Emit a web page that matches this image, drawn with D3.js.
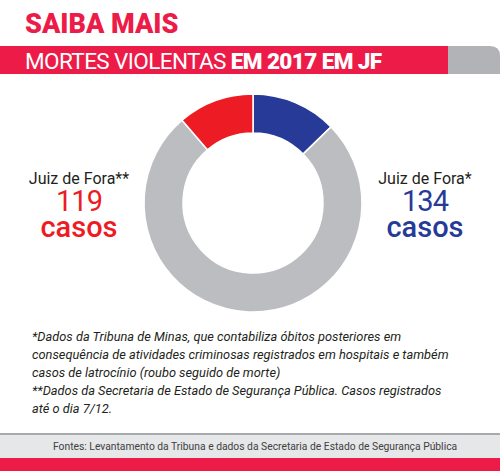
<!DOCTYPE html>
<html><head><meta charset="utf-8">
<script src="https://cdn.jsdelivr.net/npm/d3@7"></script>
<style>body{margin:0;background:#fff}</style>
</head><body>
<script>
// slice values, clockwise from the top
var labels = ["Juiz de Fora*", "outros", "Juiz de Fora**"];
var values = [134, 802, 119];
var colors = ["#273a97", "#bcbdc0", "#ed1c24"];

var W = 500, H = 471;
var svg = d3.select("body").append("svg").attr("width", W).attr("height", H);
var font = "Roboto, 'Open Sans', sans-serif";

//title
svg.append("text").attr("x", 25).attr("y", 33).attr("fill", "#ec1b48")
    .attr("font-family", font).attr("font-weight", 900).attr("font-size", 27)
    .text("SAIBA MAIS");

//header bar
svg.append("path").attr("fill", "#b1b3b6")
    .attr("d", "M440,46 H490 Q500,46 500,56 V74 H440 Z");
svg.append("rect").attr("x", 0).attr("y", 46).attr("width", 448).attr("height", 28).attr("fill", "#ec1b48");
var ht = svg.append("text").attr("x", 25).attr("y", 69).attr("fill", "#fff")
    .attr("font-family", font).attr("font-size", 22.5).attr("letter-spacing", -0.6);
ht.append("tspan").attr("font-weight", 400).text("MORTES VIOLENTAS ");
ht.append("tspan").attr("font-weight", 900).text("EM 2017 EM JF");

//donut
var cx = 253, cy = 203;
var pie = d3.pie().sort(null).value(function(d) { return d; });
var arc = d3.arc().innerRadius(70).outerRadius(109);
svg.append("g").attr("transform", "translate(" + cx + "," + cy + ")")
  .selectAll("path").data(pie(values)).enter().append("path")
    .attr("d", arc).attr("fill", function(d, i) { return colors[i]; })
    .attr("stroke", "#fff").attr("stroke-width", 1.5);

//side labels
function sideLabel(x, i) {
  svg.append("text").attr("x", x).attr("y", 184).attr("text-anchor", "middle")
      .attr("font-family", font).attr("font-size", 16).attr("fill", "#231f20")
      .text(labels[i]);
  svg.append("text").attr("x", x).attr("y", 211).attr("text-anchor", "middle")
      .attr("font-family", font).attr("font-size", 29).attr("fill", colors[i])
      .attr("letter-spacing", -1).text(values[i]);
  svg.append("text").attr("x", x).attr("y", 237).attr("text-anchor", "middle")
      .attr("font-family", font).attr("font-weight", 500).attr("font-size", 29).attr("fill", colors[i])
      .text("casos");
}
sideLabel(79, 2);
sideLabel(425, 0);

//notes
var notes = [
  "*Dados da Tribuna de Minas, que contabiliza óbitos posteriores em",
  "consequência de atividades criminosas registrados em hospitais e também",
  "casos de latrocínio (roubo seguido de morte)",
  "**Dados da Secretaria de Estado de Segurança Pública. Casos registrados",
  "até o dia 7/12."
];
svg.selectAll("text.note").data(notes).enter().append("text").attr("class", "note")
    .attr("x", 32).attr("y", function(d, i) { return 341 + i * 18; })
    .attr("font-family", font).attr("font-style", "italic").attr("font-size", 12.8)
    .attr("fill", "#231f20").text(function(d) { return d; });

//footer
svg.append("rect").attr("x", 0).attr("y", 434).attr("width", W).attr("height", 25).attr("fill", "#e6e7e8");
svg.append("rect").attr("x", 0).attr("y", 433).attr("width", W).attr("height", 2).attr("fill", "#a7a9ac");
svg.append("rect").attr("x", 0).attr("y", 458).attr("width", W).attr("height", 13).attr("fill", "#ec1b48");
svg.append("text").attr("x", 53).attr("y", 450).attr("font-family", font).attr("font-size", 10.3)
    .attr("fill", "#414042").text("Fontes: Levantamento da Tribuna e dados da Secretaria de Estado de Segurança Pública");
</script>
</body></html>
